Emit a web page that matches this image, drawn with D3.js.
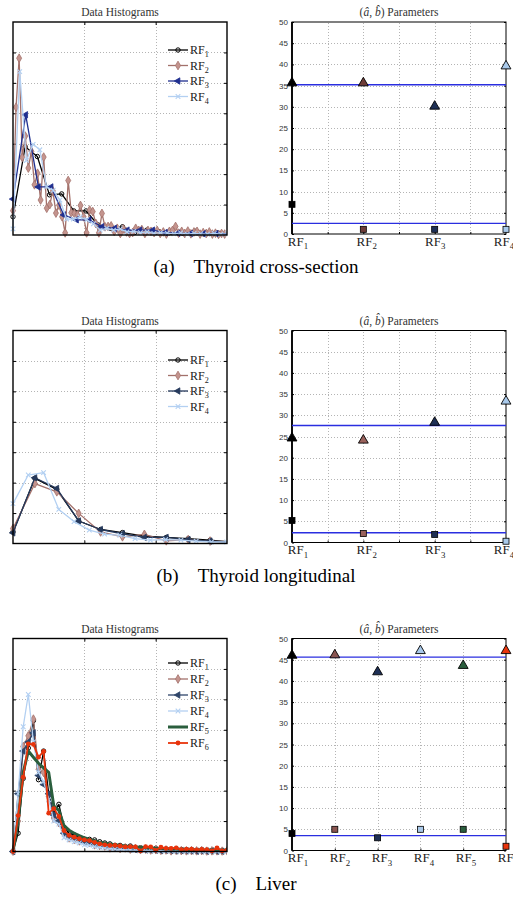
<!DOCTYPE html>
<html>
<head>
<meta charset="utf-8">
<title>RF histograms and parameters</title>
<script src="https://cdn.jsdelivr.net/npm/d3@7"></script>
<style>
body { margin: 0; background: #fff; }
.grid line { stroke: #b4b4b4; stroke-dasharray: 1,2; shape-rendering: crispEdges; }
.grid path, .tk path { display: none; }
.tk line { stroke: #000; }
.ttl { font-family: "Liberation Serif", serif; font-size: 11.5px; text-anchor: middle; fill: #333; }
.cap { font-family: "Liberation Serif", serif; font-size: 19px; text-anchor: middle; fill: #000; }
.lab { font-family: "Liberation Serif", serif; fill: #222; }
.ynum text { font-family: "Liberation Sans", sans-serif; font-size: 8px; fill: #333; }
</style>
</head>
<body>
<script>
// ---- data histograms (y values per bin) ----
const binStepA = [0.1706, 0.043, 0.178, 0.094];
const histA_rf1 = [0.6, 2.9, 2.58, 1.32, 1.35, 0.79, 0.79, 0.33, 0.22, 0.27, 0.08, 0.16, 0.11, 0.08, 0.05, 0.12, 0.05, 0.05, 0.04];
const histA_rf2 = [0.8, 4.2, 5.81, 2.55, 3.25, 2.2, 2.75, 1.65, 2.03, 1.15, 2.56, 0.88, 1.0, 1.45, 0.72, 0.98, 0.6, 0.07, 1.79, 0.73,
  0.71, 0.66, 0.97, 0.6, 0.07, 0.82, 0.77, 0.38, 0.07, 0.71, 0.27, 0.28, 0.3, 0.12, 0.22, 0.05, 0.2, 0.1, 0.05, 0.08,
  0.22, 0.15, 0.18, 0.05, 0.15, 0.12, 0.08, 0.15, 0.05, 0.1, 0.03, 0.12, 0.15, 0.28, 0.06, 0.12, 0.05, 0.13, 0.04, 0.1,
  0.12, 0.03, 0.08, 0.05, 0.1, 0.03, 0.06, 0.02, 0.05, 0.03];
const histA_rf3 = [1.18, 3.95, 1.58, 1.58, 0.66, 0.5, 0.5, 0.27, 0.22, 0.16, 0.16, 0.16, 0.08, 0.06, 0.05, 0.04, 0.05, 0.03];
const histA_rf4 = [0.2, 5.37, 2.45, 2.98, 2.8, 1.58, 1.47, 1.15, 0.52, 0.52, 0.59, 0.5, 0.37, 0.16, 0.22, 0.16, 0.2, 0.1, 0.12, 0.08,
  0.1, 0.05, 0.08, 0.06, 0.04, 0.07, 0.03, 0.05, 0.04, 0.03, 0.05, 0.03, 0.04];

const binStepB = [0.307, 0.307, 0.307, 0.214];
const histB_rf1 = [0.38, 2.14, 1.78, 0.74, 0.46, 0.36, 0.24, 0.2, 0.16, 0.11, 0.05];
const histB_rf2 = [0.49, 1.97, 1.7, 0.99, 0.38, 0.22, 0.3, 0.09, 0.13, 0.08, 0.05];
const histB_rf3 = [0.35, 2.16, 1.81, 0.74, 0.46, 0.32, 0.2, 0.2, 0.13, 0.08, 0.04];
const histB_rf4 = [1.31, 2.25, 2.33, 1.12, 0.72, 0.44, 0.31, 0.27, 0.16, 0.11, 0.13, 0.11, 0.08, 0.05, 0.05];

const binStepC = [0.0715, 0.0715, 0.0715, 0.0715, 0.0715, 0.0715];
const histC_rf1 = [0, 0.6, 2.4, 3.4, 4.3, 2.36, 3.3, 1.9, 1.25, 1.55, 0.8, 0.6, 0.55, 0.45, 0.4, 0.4, 0.38, 0.32, 0.28, 0.25,
  0.2, 0.2, 0.16, 0.18, 0.12, 0.12, 0.1, 0.08, 0.1, 0.06, 0.08, 0.05, 0.07, 0.04, 0.06, 0.04, 0.03, 0.05, 0.03, 0.04, 0.02, 0.03, 0.02];
const histC_rf2 = [0, 1.0, 3.45, 3.8, 4.35, 2.7, 2.6, 1.8, 1.1, 0.95, 0.6, 0.45, 0.4, 0.35, 0.32, 0.3, 0.22, 0.2, 0.18, 0.12,
  0.15, 0.1, 0.12, 0.08, 0.1, 0.06, 0.08, 0.05, 0.06, 0.04, 0.05, 0.02, 0.04, 0.03, 0.02, 0.03, 0.02, 0.03, 0.01, 0.02, 0.02, 0.01, 0.02];
const histC_rf3 = [0, 1.9, 3.3, 3.6, 3.9, 2.5, 2.2, 1.9, 1.2, 1.0, 0.6, 0.5, 0.45, 0.4, 0.32, 0.28, 0.25, 0.2, 0.18, 0.15,
  0.12, 0.12, 0.1, 0.08, 0.06, 0.07, 0.05, 0.05, 0.04, 0.03, 0.04, 0.03, 0.02, 0.03, 0.02, 0.02, 0.01, 0.02, 0.01, 0.02, 0.01, 0.01, 0.02];
const histC_rf4 = [0, 1.9, 4.1, 5.16, 3.6, 2.6, 2.3, 1.7, 1.0, 0.9, 0.45, 0.38, 0.32, 0.28, 0.22, 0.2, 0.16, 0.14, 0.12, 0.1,
  0.08, 0.07, 0.06, 0.05, 0.04, 0.05, 0.03, 0.03, 0.02, 0.03, 0.02, 0.02, 0.01, 0.02, 0.01, 0.01, 0.02, 0.01, 0.01, 0.01, 0.01, 0.01, 0.01];
const histC_rf5 = [0, 1.0, 2.6, 3.3, 3.1, 2.9, 2.75, 2.6, 1.5, 1.35, 0.85, 0.7, 0.6, 0.52, 0.45, 0.4, 0.35, 0.3, 0.28, 0.25,
  0.22, 0.2, 0.18, 0.16, 0.15, 0.14, 0.12, 0.12, 0.1, 0.1, 0.09, 0.08, 0.08, 0.07, 0.07, 0.06, 0.06, 0.05, 0.05, 0.05, 0.04, 0.04, 0.04];
const histC_rf6 = [0, 1.18, 2.44, 3.54, 3.52, 3.1, 3.29, 1.26, 1.41, 1.15, 0.69, 0.53, 0.47, 0.42, 0.38, 0.36, 0.3, 0.25, 0.22, 0.2,
  0.2, 0.18, 0.15, 0.16, 0.15, 0.02, 0.16, 0.15, 0.04, 0.14, 0.1, 0.1, 0.12, 0.06, 0.08, 0.08, 0.05, 0.07, 0.06, 0.02, 0.12, 0.02, 0.05];

// ---- (a-hat, b-hat) parameters ----
const rfNumsA = [1, 2, 3, 4];
const aHatA = [35.8, 35.8, 30.3, 39.8];
const bHatA = [7.0, 1.1, 1.1, 1.1];
const meanLinesA = [35.2, 2.5];

const rfNumsB = [1, 2, 3, 4];
const aHatB = [24.8, 24.3, 28.5, 33.5];
const bHatB = [5.2, 2.1, 1.9, 0.3];
const meanLinesB = [27.6, 2.3];

const rfNumsC = [1, 2, 3, 4, 5, 6];
const aHatC = [46.2, 46.3, 42.3, 47.3, 43.8, 47.3];
const bHatC = [4.0, 5.0, 3.0, 5.0, 5.0, 1.0];
const meanLinesC = [45.6, 3.5];

const yTicksParam = [0, 5, 10, 15, 20, 25, 30, 35, 40, 45, 50];
const captions = ["(a)\u2003Thyroid cross-section", "(b)\u2003Thyroid longitudinal", "(c)\u2003Liver"];

// ---- styles ----
const histColorsA = ["#000000", "#a3716b", "#1f2f8f", "#b3d0f2"];
const histColorsB = ["#000000", "#a3716b", "#25395c", "#b3d0f2"];
const histColorsC = ["#000000", "#a3716b", "#2f4569", "#b3d0f2", "#2a5e3d", "#e8340c"];
const markerKinds = ["circle", "diamond", "triLeft", "x", "none", "dot"];
const paramColorsA = ["#000000", "#6e3c38", "#1e2f55", "#a9c9ea"];
const paramColorsB = ["#000000", "#9a625c", "#1e2f55", "#a9c9ea"];
const paramColorsC = ["#000000", "#8a5550", "#1e2f55", "#a9c9ea", "#2a5e3d", "#e8340c"];

const svg = d3.select("body").append("svg").attr("width", 513).attr("height", 914);
svg.append("defs");
let clipId = 0;

function drawMarker(g, kind, color, cx, cy) {
  if (kind === "circle") {
    g.append("circle").attr("cx", cx).attr("cy", cy).attr("r", 2.2)
      .attr("fill", "none").attr("stroke", color).attr("stroke-width", 1);
  } else if (kind === "diamond") {
    g.append("path").attr("d", d3.symbol(d3.symbolDiamond, 22)())
      .attr("transform", `translate(${cx},${cy})`)
      .attr("fill", "#c4948e").attr("stroke", color).attr("stroke-width", 0.8);
  } else if (kind === "triLeft") {
    g.append("path").attr("d", d3.symbol(d3.symbolTriangle, 18)())
      .attr("transform", `translate(${cx},${cy}) rotate(-90)`)
      .attr("fill", color).attr("stroke", color).attr("stroke-width", 0.8);
  } else if (kind === "x") {
    g.append("path").attr("d", `M${cx - 2.3},${cy - 2.3}L${cx + 2.3},${cy + 2.3}M${cx - 2.3},${cy + 2.3}L${cx + 2.3},${cy - 2.3}`)
      .attr("stroke", color).attr("stroke-width", 1.1);
  } else if (kind === "dot") {
    g.append("circle").attr("cx", cx).attr("cy", cy).attr("r", 2.4).attr("fill", color);
  }
}

function rfLabel(parent, x, y, n, size, anchor) {
  const t = parent.append("text").attr("class", "lab").attr("x", x).attr("y", y)
    .attr("font-size", size).attr("text-anchor", anchor);
  t.append("tspan").text("RF");
  t.append("tspan").attr("font-size", size * 0.68).attr("dy", size * 0.28).text(n);
  return t;
}

function histPanel(top, series, steps, colors, legendTop) {
  const h = 213;
  const x = d3.scaleLinear().domain([0, 3]).range([13, 227]);
  const y = d3.scaleLinear().domain([0, 7]).range([top + h, top]);
  const g = svg.append("g");

  g.append("g").attr("class", "grid").attr("transform", `translate(0,${top + h})`)
    .call(d3.axisBottom(x).tickValues([1, 2]).tickSize(-h).tickFormat(""));
  g.append("g").attr("class", "grid").attr("transform", "translate(13,0)")
    .call(d3.axisLeft(y).tickValues([1, 2, 3, 4, 5, 6]).tickSize(-214).tickFormat(""));

  // small inward tick marks on all four sides
  g.append("g").attr("class", "tk").attr("transform", "translate(13,0)")
    .call(d3.axisLeft(y).tickValues([1, 2, 3, 4, 5, 6]).tickSizeInner(-3).tickSizeOuter(0).tickFormat(""));
  g.append("g").attr("class", "tk").attr("transform", "translate(227,0)")
    .call(d3.axisRight(y).tickValues([1, 2, 3, 4, 5, 6]).tickSizeInner(-3).tickSizeOuter(0).tickFormat(""));
  g.append("g").attr("class", "tk").attr("transform", `translate(0,${top + h})`)
    .call(d3.axisBottom(x).tickValues([1, 2]).tickSizeInner(-3).tickSizeOuter(0).tickFormat(""));
  g.append("g").attr("class", "tk").attr("transform", `translate(0,${top})`)
    .call(d3.axisTop(x).tickValues([1, 2]).tickSizeInner(-3).tickSizeOuter(0).tickFormat(""));

  const id = "clip" + (clipId++);
  svg.select("defs").append("clipPath").attr("id", id)
    .append("rect").attr("x", 9).attr("y", top - 4).attr("width", 218).attr("height", h + 8);
  const plot = g.append("g").attr("clip-path", `url(#${id})`);

  series.forEach((vals, si) => {
    const line = d3.line().x((d, i) => x(i * steps[si])).y(d => y(d));
    const kind = markerKinds[si];
    plot.append("path").attr("d", line(vals)).attr("fill", "none")
      .attr("stroke", colors[si])
      .attr("stroke-width", kind === "none" ? 3 : (kind === "dot" ? 1.8 : 1.3))
      .attr("stroke-linejoin", "round");
    const mg = plot.append("g");
    vals.forEach((d, i) => drawMarker(mg, kind, colors[si], x(i * steps[si]), y(d)));
  });

  g.append("rect").attr("x", 13).attr("y", top).attr("width", 214).attr("height", h)
    .attr("fill", "none").attr("stroke", "#000").attr("stroke-width", 1.4);

  g.append("text").attr("class", "ttl").attr("x", 120).attr("y", top - 6).text("Data Histograms");

  // legend
  series.forEach((vals, si) => {
    const ly = legendTop + si * (series.length > 4 ? 16 : 15.5);
    const kind = markerKinds[si];
    g.append("line").attr("x1", 168).attr("x2", 188).attr("y1", ly).attr("y2", ly)
      .attr("stroke", colors[si]).attr("stroke-width", kind === "none" ? 3 : (kind === "dot" ? 1.8 : 1.3));
    drawMarker(g, kind, colors[si], 178, ly);
    rfLabel(g, 190, ly + 4, si + 1, 12, "start");
  });
}

function paramPanel(top, nums, aVals, bVals, means, colors, gridStep) {
  const h = 212;
  const n = nums.length;
  const x = d3.scaleLinear().domain([1, n]).range([292, 506]);
  const y = d3.scaleLinear().domain([0, 50]).range([top + h, top]);
  const g = svg.append("g");
  const vGrid = d3.range(1 + gridStep, n, gridStep);

  g.append("g").attr("class", "grid").attr("transform", `translate(0,${top + h})`)
    .call(d3.axisBottom(x).tickValues(vGrid).tickSize(-h).tickFormat(""));
  g.append("g").attr("class", "grid").attr("transform", "translate(292,0)")
    .call(d3.axisLeft(y).tickValues(yTicksParam.slice(1, -1)).tickSize(-214).tickFormat(""));

  g.append("g").attr("class", "tk ynum").attr("transform", "translate(292,0)")
    .call(d3.axisLeft(y).tickValues(yTicksParam).tickSizeInner(-2).tickSizeOuter(0).tickPadding(4));
  g.append("g").attr("class", "tk").attr("transform", "translate(506,0)")
    .call(d3.axisRight(y).tickValues(yTicksParam).tickSizeInner(-2).tickSizeOuter(0).tickFormat(""));
  g.append("g").attr("class", "tk").attr("transform", `translate(0,${top + h})`)
    .call(d3.axisBottom(x).tickValues(vGrid).tickSizeInner(-2).tickSizeOuter(0).tickFormat(""));

  g.append("rect").attr("x", 292).attr("y", top).attr("width", 214).attr("height", h)
    .attr("fill", "none").attr("stroke", "#000").attr("stroke-width", 1);
  g.append("line").attr("x1", 292).attr("x2", 292).attr("y1", top).attr("y2", top + h)
    .attr("stroke", "#000").attr("stroke-width", 1.8);

  means.forEach(m => {
    g.append("line").attr("x1", 292).attr("x2", 506).attr("y1", y(m)).attr("y2", y(m))
      .attr("stroke", "#2a2ee0").attr("stroke-width", 1.4);
  });

  aVals.forEach((v, i) => {
    g.append("path").attr("d", d3.symbol(d3.symbolTriangle, 42)())
      .attr("transform", `translate(${x(nums[i])},${y(v) + 0.8})`)
      .attr("fill", colors[i]).attr("stroke", "#000").attr("stroke-width", 0.9);
  });
  bVals.forEach((v, i) => {
    g.append("rect").attr("x", x(nums[i]) - 3).attr("y", y(v) - 3).attr("width", 6).attr("height", 6)
      .attr("fill", colors[i]).attr("stroke", "#000").attr("stroke-width", 0.8);
  });

  // tick labels drift a little left across the axis, as in the original figure
  const drift = n === 4 ? 2.7 : 0.8;
  nums.forEach((k, i) => rfLabel(g, x(k) + 6 - i * drift, top + h + 11.5, k, 13, "middle"));

  const t = g.append("text").attr("class", "ttl").attr("x", 399).attr("y", top - 6);
  t.append("tspan").text("(");
  t.append("tspan").attr("font-style", "italic").text("\u00e2");
  t.append("tspan").text(", ");
  t.append("tspan").attr("font-style", "italic").text("b\u0302");
  t.append("tspan").text(") Parameters");
}

histPanel(22, [histA_rf1, histA_rf2, histA_rf3, histA_rf4], binStepA, histColorsA, 50);
paramPanel(22, rfNumsA, aHatA, bHatA, meanLinesA, paramColorsA, 0.5);

histPanel(330.5, [histB_rf1, histB_rf2, histB_rf3, histB_rf4], binStepB, histColorsB, 360);
paramPanel(330.5, rfNumsB, aHatB, bHatB, meanLinesB, paramColorsB, 0.5);

histPanel(638.5, [histC_rf1, histC_rf2, histC_rf3, histC_rf4, histC_rf5, histC_rf6], binStepC, histColorsC, 663);
paramPanel(638.5, rfNumsC, aHatC, bHatC, meanLinesC, paramColorsC, 1);

[273, 582, 890].forEach((yy, i) => {
  svg.append("text").attr("class", "cap").attr("x", 256).attr("y", yy).text(captions[i]);
});
</script>
</body>
</html>
